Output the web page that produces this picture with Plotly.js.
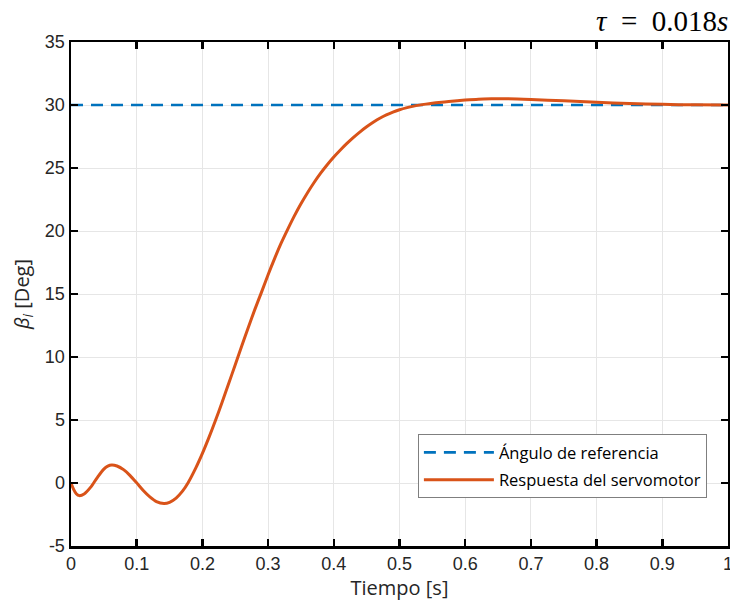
<!DOCTYPE html>
<html>
<head>
<meta charset="utf-8">
<script src="https://cdn.plot.ly/plotly-3.0.1.min.js"></script>
<style>html,body{margin:0;padding:0;background:#fff;}#chart{width:730px;height:612px;}</style>
</head>
<body>
<div id="chart"></div>
<script>
// Time samples [s]
const tiempo = [0, 0.004, 0.008, 0.0125, 0.02, 0.03, 0.04, 0.05, 0.056, 0.062, 0.07, 0.08, 0.09, 0.10, 0.11, 0.12, 0.13, 0.1415, 0.15, 0.16, 0.17, 0.178, 0.19, 0.20, 0.21, 0.22, 0.23, 0.24, 0.25, 0.26, 0.27, 0.28, 0.29, 0.30, 0.31, 0.32, 0.33, 0.34, 0.35, 0.36, 0.37, 0.38, 0.39, 0.40, 0.41, 0.42, 0.43, 0.44, 0.45, 0.46, 0.47, 0.48, 0.49, 0.50, 0.51, 0.52, 0.53, 0.54, 0.55, 0.56, 0.575, 0.60, 0.62, 0.64, 0.66, 0.70, 0.75, 0.80, 0.85, 0.90, 0.95, 1.0];
// Servomotor response [deg]
const respuesta = [0, -0.5, -0.85, -1.0, -0.87, -0.33, 0.43, 1.1, 1.34, 1.43, 1.35, 1.06, 0.59, 0.01, -0.59, -1.1, -1.47, -1.62, -1.53, -1.2, -0.63, 0, 1.2, 2.35, 3.62, 4.98, 6.41, 7.89, 9.39, 10.89, 12.37, 13.8, 15.15, 16.53, 17.83, 19.05, 20.15, 21.2, 22.16, 23.04, 23.85, 24.59, 25.26, 25.87, 26.43, 26.95, 27.43, 27.87, 28.27, 28.63, 28.95, 29.22, 29.44, 29.62, 29.77, 29.89, 29.99, 30.07, 30.14, 30.2, 30.28, 30.39, 30.46, 30.49, 30.5, 30.44, 30.33, 30.22, 30.12, 30.05, 30.01, 30.0];
// Reference angle [deg]
const refTiempo = [0, 1];
const refAngulo = [30, 30];
// Tick labels
const xTicks = [0, 0.1, 0.2, 0.3, 0.4, 0.5, 0.6, 0.7, 0.8, 0.9, 1];
const xTickText = ["0", "0.1", "0.2", "0.3", "0.4", "0.5", "0.6", "0.7", "0.8", "0.9", "1"];
const yTicks = [-5, 0, 5, 10, 15, 20, 25, 30, 35];
const yTickText = ["-5", "0", "5", "10", "15", "20", "25", "30", "35"];

const traces = [
  {x: refTiempo, y: refAngulo, mode: 'lines', name: 'Ángulo de referencia', legendgroup: 'a',
   line: {color: '#0072BD', width: 2.6, dash: '12px,8px'}},
  {x: tiempo, y: respuesta, mode: 'lines', name: 'Respuesta del servomotor', legendgroup: 'b',
   line: {color: '#D95319', width: 3, shape: 'spline', smoothing: 0.8}}
];

const axisCommon = {
  showline: true, linecolor: '#000', linewidth: 2.5, mirror: 'ticks',
  ticks: 'inside', ticklen: 7, tickwidth: 2.5, tickcolor: '#000',
  showgrid: true, gridcolor: '#e6e6e6', gridwidth: 1, zeroline: false,
  ticklabeloverflow: 'allow',
  tickfont: {family: 'Liberation Sans, Arial, sans-serif', size: 18, color: '#262626'}
};

const layout = {
  width: 730, height: 612,
  margin: {l: 71, r: 2, t: 42, b: 66},
  paper_bgcolor: '#fff', plot_bgcolor: '#fff',
  showlegend: true,
  xaxis: Object.assign({}, axisCommon, {
    range: [0, 1], tickmode: 'array', tickvals: xTicks, ticktext: xTickText,
    title: {text: 'Tiempo [s]', font: {family: 'Open Sans, sans-serif', size: 20, color: '#262626'}, standoff: 6}
  }),
  yaxis: Object.assign({}, axisCommon, {
    range: [-5, 35], tickmode: 'array', tickvals: yTicks, ticktext: yTickText,
    title: {text: '<i>β<sub>i</sub></i> [Deg]', font: {family: 'Open Sans, sans-serif', size: 20, color: '#262626'}, standoff: 10}
  }),
  legend: {
    x: 0.528, y: 0.222, xanchor: 'left', yanchor: 'top',
    bgcolor: '#fff', bordercolor: '#7f7f7f', borderwidth: 1,
    font: {family: 'Open Sans, sans-serif', size: 16.5, color: '#000'},
    itemwidth: 70, tracegroupgap: 3, traceorder: 'grouped'
  },
  annotations: [{
    xref: 'paper', yref: 'paper', x: 1.003, y: 1.0, xanchor: 'right', yanchor: 'bottom', yshift: 3,
    showarrow: false,
    text: '<i>τ</i>&nbsp;&nbsp;=&nbsp;&nbsp;0.018<i>s</i>',
    font: {family: 'Liberation Serif, DejaVu Serif, serif', size: 29, color: '#000'}
  }]
};

Plotly.newPlot('chart', traces, layout, {displayModeBar: false, staticPlot: true});
</script>
</body>
</html>
